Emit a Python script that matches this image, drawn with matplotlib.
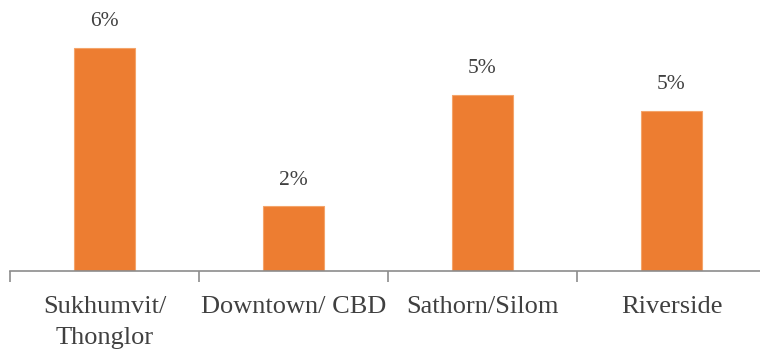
import matplotlib.pyplot as plt

plt.rcParams['font.family'] = ['Liberation Serif', 'DejaVu Serif']

districts = ['Sukhumvit/\nThonglor', 'Downtown/ CBD', 'Sathorn/Silom', 'Riverside']
growth = [6.4, 1.85, 5.05, 4.6]

bar_color = '#ED7D31'
text_color = '#404040'
axis_color = '#8c8c8c'

fig = plt.figure(figsize=(7.6, 3.58), dpi=100)
ax = fig.add_axes([10 / 760, 87 / 358, 756 / 760, 271 / 358])

x = range(len(districts))
bars = ax.bar(x, growth, width=0.32, color=bar_color, edgecolor='#F4A46A', linewidth=0.8)

for b, v in zip(bars, growth):
    ax.annotate(f'{v:.0f}%', (b.get_x() + b.get_width() / 2, v),
                xytext=(0, 12), textcoords='offset points',
                ha='center', va='bottom', fontsize=15.5, color=text_color)

ax.set_xlim(-0.5, len(districts) - 0.5)
ax.set_ylim(0, 7.77)

ax.set_xticks(list(x))
ax.set_xticklabels(districts, fontsize=19, color=text_color, linespacing=1.55)
ax.set_xticks([i - 0.5 for i in range(len(districts) + 1)], minor=True)
ax.tick_params(axis='x', which='major', length=0, pad=18)
ax.tick_params(axis='x', which='minor', length=8, width=1.2, color=axis_color)
for lbl in ax.get_xticklabels():
    lbl.set_verticalalignment('top')

ax.set_yticks([])
for side in ['top', 'right', 'left']:
    ax.spines[side].set_visible(False)
ax.spines['bottom'].set_color(axis_color)
ax.spines['bottom'].set_linewidth(1.2)

fig.savefig('out.png', dpi=100)
